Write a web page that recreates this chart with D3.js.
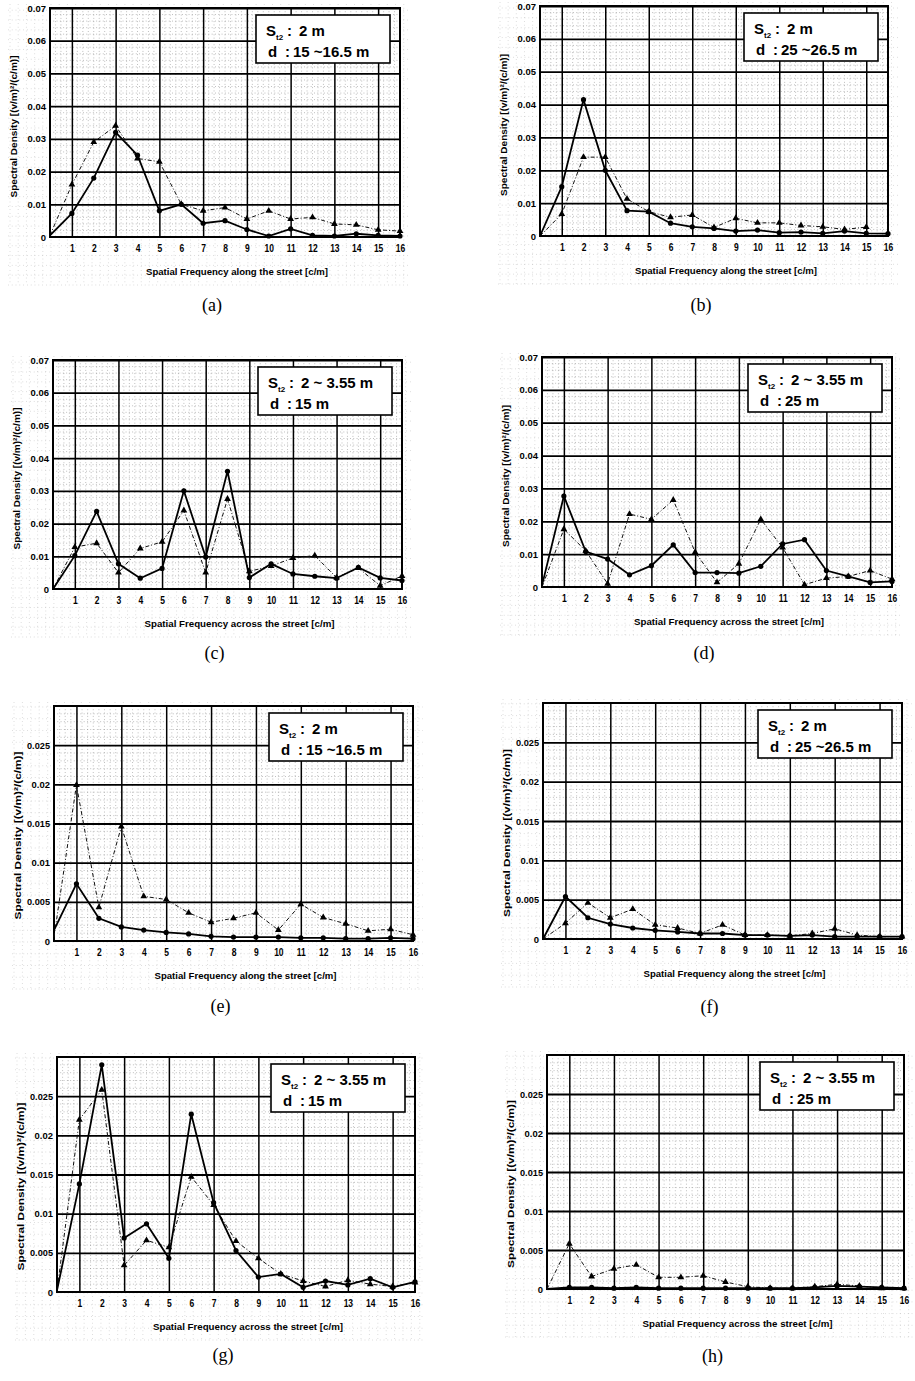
<!DOCTYPE html>
<html>
<head>
<meta charset="utf-8">
<script src="https://cdn.jsdelivr.net/npm/d3@7"></script>
<style>
  body { margin: 0; background: #fff; }
  svg { display: block; }
  .tick text { font-family: "Liberation Sans", Arial, sans-serif; font-weight: bold; }
</style>
</head>
<body>
<script>
// spatial frequency categories (c/m)
var freqs = [0, 1, 2, 3, 4, 5, 6, 7, 8, 9, 10, 11, 12, 13, 14, 15, 16];
var xTickLabels = [1, 2, 3, 4, 5, 6, 7, 8, 9, 10, 11, 12, 13, 14, 15, 16];
var yTicksHigh = [0, 0.01, 0.02, 0.03, 0.04, 0.05, 0.06, 0.07];
var yTicksLow = [0, 0.005, 0.01, 0.015, 0.02, 0.025];

// (a) along the street, St2 2 m, d 15~16.5 m
var solidA = [0.0005, 0.0072, 0.018, 0.032, 0.025, 0.008, 0.010, 0.0042, 0.005, 0.0023, 0.0003, 0.0025, 0.0005, 0.0003, 0.001, 0.0005, 0.0003];
var dashA = [0.0005, 0.016, 0.029, 0.034, 0.024, 0.023, 0.010, 0.008, 0.009, 0.0055, 0.008, 0.0055, 0.006, 0.004, 0.0037, 0.0022, 0.0018];
// (b) along, 2 m, 25~26.5 m
var solidB = [0, 0.015, 0.0415, 0.020, 0.0077, 0.0074, 0.0039, 0.0028, 0.0023, 0.0015, 0.0018, 0.001, 0.0012, 0.0008, 0.0015, 0.0008, 0.0007];
var dashB = [0, 0.0067, 0.024, 0.024, 0.0113, 0.0074, 0.0057, 0.0064, 0.0026, 0.0054, 0.004, 0.004, 0.0032, 0.0028, 0.002, 0.0027, null];
// (c) across, 2~3.55 m, 15 m
var solidC = [0, 0.0102, 0.0237, 0.0077, 0.0033, 0.0063, 0.030, 0.0098, 0.036, 0.0035, 0.0077, 0.0046, 0.0039, 0.0033, 0.0066, 0.0034, 0.0026];
var dashC = [0, 0.0128, 0.014, 0.005, 0.0124, 0.0144, 0.024, 0.005, 0.0275, 0.0054, 0.007, 0.0095, 0.0102, 0.0035, 0.0064, 0.001, 0.004];
// (d) across, 2~3.55 m, 25 m
var solidD = [0.0005, 0.0277, 0.0108, 0.0085, 0.0037, 0.0065, 0.0128, 0.0044, 0.0044, 0.0042, 0.0063, 0.0131, 0.0144, 0.005, 0.0032, 0.0014, 0.0017];
var dashD = [0, 0.0176, 0.011, 0.001, 0.0222, 0.0206, 0.0265, 0.0106, 0.0014, 0.0071, 0.0206, 0.012, 0.0007, 0.0027, 0.0032, 0.005, 0.0024];
// (e) along, 2 m, 15~16.5 m
var solidE = [0.0014, 0.0073, 0.0029, 0.0018, 0.0014, 0.0011, 0.0009, 0.0006, 0.0005, 0.0005, 0.0005, 0.0004, 0.0004, 0.0003, 0.0003, 0.0004, 0.0003];
var dashE = [0.0005, 0.0199, 0.0043, 0.0146, 0.0057, 0.0053, 0.0036, 0.0024, 0.0029, 0.0036, 0.0014, 0.0047, 0.003, 0.0022, 0.0013, 0.0015, 0.0008];
// (f) along, 2 m, 25~26.5 m
var solidF = [0, 0.0054, 0.0027, 0.0019, 0.0014, 0.0011, 0.0009, 0.0007, 0.0007, 0.0005, 0.0005, 0.0004, 0.0005, 0.0003, 0.0003, 0.0003, 0.0003];
var dashF = [0, 0.002, 0.0046, 0.0027, 0.0038, 0.0018, 0.0014, 0.0007, 0.0018, 0.0005, 0.0005, 0.0004, 0.0007, 0.0013, 0.0005, 0.0003, 0.0003];
// (g) across, 2~3.55 m, 15 m
var solidG = [0.0002, 0.0138, 0.029, 0.0069, 0.0087, 0.0043, 0.0227, 0.0114, 0.0053, 0.0019, 0.0023, 0.0006, 0.0014, 0.0009, 0.0017, 0.0006, 0.0013];
var dashG = [0.0002, 0.022, 0.0258, 0.0034, 0.0066, 0.0057, 0.0147, 0.0111, 0.0065, 0.0043, 0.0023, 0.0014, 0.0007, 0.0015, 0.001, 0.0007, 0.0012];
// (h) across, 2~3.55 m, 25 m
var solidH = [0, 0.0002, 0.0002, 0.0001, 0.0002, 0.0001, 0.0001, 0.0001, 0.0001, 0.0001, 0.0001, 0.0001, 0.0002, 0.0004, 0.0003, 0.0002, 0.0001];
var dashH = [0, 0.0058, 0.0016, 0.0026, 0.0031, 0.0015, 0.0015, 0.0017, 0.0009, 0.0003, 0.0001, 0.0001, 0.0003, 0.0006, 0.0004, 0.0001, 0.0001];

var spacingText = ["2 m", "2 ~ 3.55 m"];
var distanceText = ["15 ~16.5 m", "25 ~26.5 m", "15 m", "25 m"];
var xTitles = ["Spatial Frequency along the street [c/m]", "Spatial Frequency across the street [c/m]"];
var yTitle = "Spectral Density [(v/m)\u00b2/(c/m)]";

var panels = [
  {tag: "(a)", solid: solidA, dash: dashA, yTicks: yTicksHigh, yMax: 0.07, s: 0, d: 0, t: 0, l: 50, r: 400, top: 8, bot: 237, cap: 311},
  {tag: "(b)", solid: solidB, dash: dashB, yTicks: yTicksHigh, yMax: 0.07, s: 0, d: 1, t: 0, l: 540, r: 888, top: 6, bot: 236, cap: 311},
  {tag: "(c)", solid: solidC, dash: dashC, yTicks: yTicksHigh, yMax: 0.07, s: 1, d: 2, t: 1, l: 53, r: 402, top: 360, bot: 589, cap: 659},
  {tag: "(d)", solid: solidD, dash: dashD, yTicks: yTicksHigh, yMax: 0.07, s: 1, d: 3, t: 1, l: 542, r: 892, top: 357, bot: 587, cap: 659},
  {tag: "(e)", solid: solidE, dash: dashE, yTicks: yTicksLow, yMax: 0.03, s: 0, d: 0, t: 0, l: 54, r: 413, top: 706, bot: 941, cap: 1012},
  {tag: "(f)", solid: solidF, dash: dashF, yTicks: yTicksLow, yMax: 0.03, s: 0, d: 1, t: 0, l: 543, r: 902, top: 703, bot: 939, cap: 1013},
  {tag: "(g)", solid: solidG, dash: dashG, yTicks: yTicksLow, yMax: 0.03, s: 1, d: 2, t: 1, l: 57, r: 415, top: 1057, bot: 1292, cap: 1361},
  {tag: "(h)", solid: solidH, dash: dashH, yTicks: yTicksLow, yMax: 0.03, s: 1, d: 3, t: 1, l: 547, r: 904, top: 1055, bot: 1289, cap: 1362}
];

var svg = d3.select("body").append("svg")
  .attr("width", 915)
  .attr("height", 1381);

var sans = '"Liberation Sans", Arial, sans-serif';

panels.forEach(function(p) {
  var w = p.r - p.l, h = p.bot - p.top;
  var x = d3.scaleLinear().domain([0, 16]).range([0, w]);
  var y = d3.scaleLinear().domain([0, p.yMax]).range([h, 0]);
  var yStep = p.yTicks[1];
  var low = p.yMax < 0.05;

  var g = svg.append("g").attr("transform", "translate(" + p.l + "," + p.top + ")");

  // scanned graph-paper dots around the plot
  var dots = g.append("g").attr("stroke", "#bbb").attr("stroke-width", 0.6).attr("stroke-dasharray", "0.8,3");
  d3.range(-40, w + 10, x(0.25) * 1.5).forEach(function(v) {
    dots.append("line").attr("x1", v).attr("x2", v).attr("y1", -4).attr("y2", h + 48);
  });
  d3.range(0, h + 48, (y(0) - y(yStep / 5)) * 1.5).forEach(function(v) {
    dots.append("line").attr("x1", -42).attr("x2", w + 10).attr("y1", h - v + 48).attr("y2", h - v + 48);
  });

  // plot background with minor dotted grid
  g.append("rect").attr("width", w).attr("height", h).attr("fill", "#fff");
  var minor = g.append("g").attr("stroke", "#8a8a8a").attr("stroke-width", 0.6).attr("stroke-dasharray", "0.9,2.4");
  d3.range(0.25, 16, 0.25).forEach(function(v) {
    if (v % 2 !== 1) minor.append("line").attr("x1", x(v)).attr("x2", x(v)).attr("y1", 0).attr("y2", h);
  });
  d3.range(1, Math.round(p.yMax / yStep * 5)).forEach(function(i) {
    if (i % 5 !== 0) minor.append("line").attr("x1", 0).attr("x2", w).attr("y1", y(i * yStep / 5)).attr("y2", y(i * yStep / 5));
  });

  // major grid: horizontal every tick, vertical bold at odd frequencies
  g.append("g")
    .call(d3.axisLeft(y).tickValues(p.yTicks.slice(1)).tickSize(-w).tickFormat(""))
    .call(function(a) { a.select(".domain").remove(); })
    .selectAll("line").attr("stroke", "#000").attr("stroke-width", 1.8);
  g.append("g")
    .attr("transform", "translate(0," + h + ")")
    .call(d3.axisBottom(x).tickValues(xTickLabels.filter(function(d) { return d % 2 === 1; })).tickSize(h).tickFormat(""))
    .call(function(a) { a.select(".domain").remove(); })
    .selectAll("line")
    .attr("transform", "translate(0," + (-h) + ")")
    .attr("stroke", "#000")
    .attr("stroke-width", 1.5);

  // frame
  g.append("rect").attr("width", w).attr("height", h)
    .attr("fill", "none").attr("stroke", "#000").attr("stroke-width", 2);

  // tick labels
  g.append("g")
    .attr("transform", "translate(0," + h + ")")
    .call(d3.axisBottom(x).tickValues(xTickLabels).tickSize(0).tickPadding(8))
    .call(function(a) { a.select(".domain").remove(); })
    .selectAll("text").attr("font-size", 10).attr("fill", "#000")
    .attr("transform", "scale(0.85,1)");
  g.append("g")
    .call(d3.axisLeft(y).tickValues(p.yTicks).tickSize(0).tickPadding(4)
      .tickFormat(function(d) { return String(+d.toFixed(3)); }))
    .call(function(a) { a.select(".domain").remove(); })
    .selectAll("text").attr("font-size", 9.5).attr("fill", "#000")
    .attr("textLength", function(d) { return d === 0 ? null : (String(+d.toFixed(3)).length * 4.6); })
    .attr("lengthAdjust", "spacingAndGlyphs");

  // axis titles
  g.append("text")
    .attr("x", w / 2 + 12).attr("y", h + 38)
    .attr("text-anchor", "middle")
    .attr("font-family", sans).attr("font-weight", "bold").attr("font-size", 9.5)
    .attr("textLength", p.t === 0 ? 182 : 190).attr("lengthAdjust", "spacingAndGlyphs")
    .text(xTitles[p.t]);
  g.append("text")
    .attr("transform", "translate(-33," + (h / 2 + (low ? 12 : 4)) + ") rotate(-90)")
    .attr("text-anchor", "middle")
    .attr("font-family", sans).attr("font-weight", "bold").attr("font-size", 9.5)
    .attr("textLength", low ? 168 : 142).attr("lengthAdjust", "spacingAndGlyphs")
    .text(yTitle);

  // series lines
  var line = d3.line()
    .defined(function(d) { return d != null; })
    .x(function(d, i) { return x(freqs[i]); })
    .y(function(d) { return y(d); });

  g.append("path").datum(p.dash)
    .attr("d", line).attr("fill", "none")
    .attr("stroke", "#111").attr("stroke-width", 1)
    .attr("stroke-dasharray", "4,2,1,2");
  g.append("path").datum(p.solid)
    .attr("d", line).attr("fill", "none")
    .attr("stroke", "#000").attr("stroke-width", 1.8);

  var tri = d3.symbol().type(d3.symbolTriangle).size(20);
  g.selectAll(".tri").data(p.dash.map(function(v, i) { return {f: freqs[i], v: v}; }).filter(function(d) { return d.v != null && d.f > 0; }))
    .enter().append("path")
    .attr("d", tri)
    .attr("transform", function(d) { return "translate(" + x(d.f) + "," + y(d.v) + ")"; })
    .attr("fill", "#000");
  g.selectAll(".dot").data(p.solid.map(function(v, i) { return {f: freqs[i], v: v}; }).filter(function(d) { return d.f > 0; }))
    .enter().append("circle")
    .attr("cx", function(d) { return x(d.f); })
    .attr("cy", function(d) { return y(d.v); })
    .attr("r", 2.6)
    .attr("fill", "#000");

  // legend box
  var bx = w - 144, by = 7;
  var lg = g.append("g").attr("transform", "translate(" + bx + "," + by + ")")
    .attr("font-family", sans).attr("font-weight", "bold").attr("font-size", 15);
  lg.append("rect").attr("width", 134).attr("height", 48)
    .attr("fill", "#fff").attr("stroke", "#000").attr("stroke-width", 1.6);
  var t1 = lg.append("text").attr("y", 21);
  t1.append("tspan").attr("x", 10).text("S");
  t1.append("tspan").attr("font-size", 8).attr("dy", 4).text("t2");
  t1.append("tspan").attr("x", 31).attr("dy", -4).text(":");
  t1.append("tspan").attr("x", 43).text(spacingText[p.s]);
  var t2 = lg.append("text").attr("y", 42);
  t2.append("tspan").attr("x", 12).text("d");
  t2.append("tspan").attr("x", 29).text(":");
  t2.append("tspan").attr("x", 37).text(distanceText[p.d]);

  // caption
  svg.append("text")
    .attr("x", p.l + w / 2 - 13).attr("y", p.cap)
    .attr("text-anchor", "middle")
    .attr("font-family", '"Liberation Serif", "DejaVu Serif", serif').attr("font-size", 18)
    .text(p.tag);
});
</script>
</body>
</html>
